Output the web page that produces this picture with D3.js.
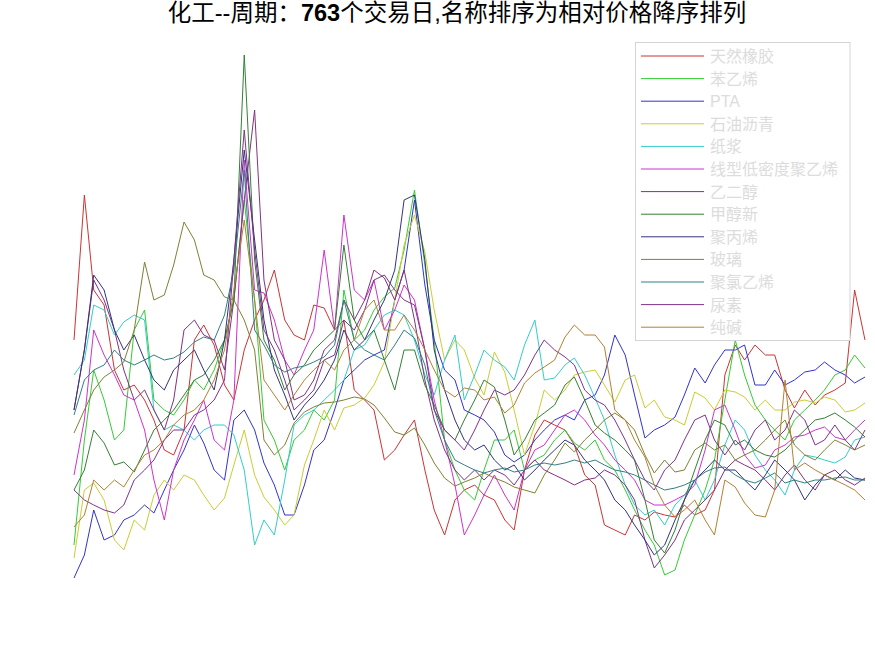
<!DOCTYPE html>
<html><head><meta charset="utf-8">
<script src="https://cdn.jsdelivr.net/npm/d3@7"></script>
<style>body{margin:0;background:#fff}</style>
</head><body>
<svg id="chart" width="875" height="656"></svg>
<script>
const names = ["天然橡胶","苯乙烯","PTA","石油沥青","纸浆","线型低密度聚乙烯","乙二醇","甲醇新","聚丙烯","玻璃","聚氯乙烯","尿素","纯碱"];
const colors = ["#cc3333","#33cc33","#3333cc","#cccc33","#33cccc","#cc33cc","#803380","#338033","#333380","#808033","#338080","#80338c","#b38033"];
const totalDays = 763;
const days = d3.range(80).map(k => Math.round(k * (totalDays - 1) / 79));

const rubber = [52,81,62,59,46,42,43,40,36,30,29,34,52,55,51,43,40,50,56,60,66,56,53,52,59,58.4,54,56,42,40,38,28,30,33,36,26,18,13,20,22,23,21,20,16,14,26,33,36,35,34,31,25,23,15,14,13,17,16,17.6,17,16.6,19,17,18,22,45,51,48,51,49,49,42,38.4,42,39,41,42,43.4,62,52];
const styrene = [11,32,46,40,32,34,54,58,40,38,37,40,44,42,46,52,60,80,60,36,32,26,32,34,38,36,40,62,52,54,58,60.6,62.4,70,82,67,52,32,26,22,20,26,32,32,34,26,28,29,32,34,31.4,30,32,28,26,22,18,14,11,5,6,12,17,22,28,40,52,45,39,36,34,32,36,38,40,42,45,46,49,46.4];
const pta = [4.4,9,18,12,13,16,17,19,17.4,22,26,30,35,31.4,26,24,36,38,34,27.4,23,17,17,23,30,32,38,44,46,48,49,50,60,66,80,63,52,46,44,38,37,36,33.6,29,27.6,29,32,34,36,37,36,40,41,45,53,49,41,32.4,34,35,36.6,41,46.4,43.4,47,50,50,51,43,43,46,43,44,45.6,46,47.6,46,45,43.4,44.6];
const asphalt = [8.4,22,23.4,20,12,10,16,14,21,24,22,25,24,21,18,20.4,27,34,25,20.6,18,15,17,27,32,38,34,38.4,39,40.4,43,47.6,60,71,77,69.6,58,48,52,50,44.4,41,49.6,45.6,38,29,35,42,40,42,45,45.6,46,43,39.6,44,45,38.4,40,36.6,36,35,41.6,40.4,38,42,41.6,40.6,38,40,38,38,39.6,40,39.4,40.6,40,37.6,38,39.4];
const pulp = [45,48,59,58,53,55.6,57,56,38,34,35,34,32,34,35,35,33,26,11,16,13,24,35,37,38,40,42,44,50,51,54,57,58,57,52,45,41,48,53,40,45,50,48,46.6,44,51,56,44,44.4,47,48.4,45,40.4,36,29,23,19,17,18,15,19,21,24,20,24,31,36,34,29,26,24,21,26,29,28.6,28,27.4,28.6,32,32.6];
const lldpe = [25,36,54,49,45,41,40,34,24,16,26,32,36,40,32,30,40,88,62,61.4,56,48,45,50,54,70,54,77,62,60,64,54,58,63,60,50,40,32,23,13,17,21,25,21,18,26,30,31,34,37,38,36,33,31,28,26,24,20,19,19,20,21,23,30,38,39,34,29,26.4,27,30,31,32.6,33,34,34.6,32.6,32,34,36];
const glycol = [38,50,64,60,54,46,40,42,38,34,40,54,56,53,52,46,60,80,98,64,52,48,40,41,44,50,52,60,56,60,66,64.4,60,66,56,44,36,30,26,24,26,24,26,25,23,26,28,26,25,24,23,24,24.4,26,25,23,20,12,6.4,9,12,16,18,20,22,26,28,27,26,24,22,25,27,24,22,25,26,24,23,24.4];
const methanol = [22,26,34,31.4,27,27.6,25.6,30,34,36,38,41,44,45,48,52,60,109,68,52,48,42,45,47,50,52,54,71,56,52,54,48,42,50,50,43,39,34,32,36,40,44,42.6,36,29,32,36,37.4,39,43,44.6,40,35,33.4,32,30,28,20,12,9.4,14,20,26,32,36,35,31,32,30,29,28.6,30,32,34,36,36.4,37.4,36,34.6,32.6];
const pp = [38,50,65,62,54,50,53,48,44,42,46,48,50,46,42,52,68,90,72,56,46,41,36,39,41,44,48,54,50,52,56,60,66,80,81,68,50,42,36,32,30,31,28,26,27,24,26,28,30,32,31,28,26,24,20,18,15,12,9,11,16,20,24,26,28,26,26,24,22,25,28,26,24,20,23,25,24,26,24.4,24];
const glass = [33.4,38,42,44.6,46,47.6,54,67.6,60,61,67,75.6,72,65,64,60.6,60,56,50,32,29,31,35.4,37.6,38.6,39.4,39.6,40,40.6,40.2,39,36.4,33.6,33,34.4,31,27.4,24.4,22.8,23.6,24.4,25.4,24.4,23.6,22.6,22,21.4,25,28,31.4,29.6,32,34,36,37.4,36,34,29,25.4,28,25.6,26,30,31.4,30,31,28,29,30,32,34,36,31,29,28,30,32,31,30,31];
const pvc = [37,44,46,47,50,48,47,48,49,48,48.4,49.6,51.6,52.6,52,57,66,86,54,51,47,45.6,46.4,46.8,47.6,48.6,51,60,52,50,49,48,51,54,52.4,47,38,32,28,27,26,25.4,26,26.4,25.6,26,27,27.4,27,27.4,28,27.4,28,27,26,25.6,25,24,23,22,22.4,23,24,25.6,26.4,26.6,25,24,23.4,24.4,25.4,23.4,24,23.4,24,24,24.4,24.6,24,24];
const urea = [22,20,19,18,17.4,19,24,26,28,32,34,34,37,38,40,44,68,94,70,54,50,44,38,40,42,48,49,56,54,58,64,65,62,60,59,50,38,34,32,30,34,38,42,41,42,45,49,52,50,48.6,47,42,40,39,36,32,28,24,22,26,28,32,36,37,32,29,32,30,34,36,32,34,38,36,31,32,35,32,30,34];
const soda = [14.6,17,24,22,24,22.6,26,29,30,32,35,37,38,40,44,50,62,76,60,44,41,38,41,44,46,48,46,50,52,58,60,54,54,57,54,50,46,42,40.6,42.4,42,40,40.6,37.4,39,43.4,45.4,46.6,48,52.6,55,53,53,50.6,38,36,32,28.6,23,19,16.6,18,20,16,13,24,22.6,19.4,17,16.6,22,44,26,27.4,26,25,24,23,22,20];

const seriesValues = [rubber, styrene, pta, asphalt, pulp, lldpe, glycol, methanol, pp, glass, pvc, urea, soda];

const svg = d3.select('#chart');
const x = d3.scaleLinear().domain([0, totalDays - 1]).range([74, 865]);
const y = d3.scaleLinear().domain([0, 120]).range([600, 0]);
const line = d3.line().x((d, i) => x(days[i])).y(d => y(d));

svg.append('g').selectAll('path').data(seriesValues).join('path')
  .attr('d', d => line(d))
  .attr('fill', 'none')
  .attr('stroke', (d, i) => colors[i])
  .attr('stroke-width', 1)
  .attr('stroke-linejoin', 'round');

// title
const title = svg.append('text')
  .attr('x', 457).attr('y', 21)
  .attr('text-anchor', 'middle')
  .attr('font-family', '"Liberation Sans", "Noto Sans CJK SC", sans-serif')
  .attr('font-size', 23.5)
  .attr('fill', '#000');
title.append('tspan').text('化工--周期：');
title.append('tspan').attr('font-weight', 'bold').text('763');
title.append('tspan').text('个交易日,名称排序为相对价格降序排列');

// legend
const lg = svg.append('g');
lg.append('rect')
  .attr('x', 635.5).attr('y', 42.5).attr('width', 214.5).attr('height', 298)
  .attr('fill', '#fff').attr('stroke', '#d4d4d4').attr('stroke-width', 1);
const item = lg.selectAll('g.item').data(names).join('g')
  .attr('transform', (d, i) => `translate(0, ${56 + 22.6 * i})`);
item.append('line')
  .attr('x1', 641).attr('x2', 704).attr('y1', 0).attr('y2', 0)
  .attr('stroke', (d, i) => colors[i]).attr('stroke-width', 1);
item.append('text')
  .attr('x', 710).attr('y', 6)
  .attr('font-family', '"Liberation Sans", "Noto Sans CJK SC", sans-serif')
  .attr('font-size', 16)
  .attr('fill', '#dcdcdc')
  .text(d => d);
</script>
</body></html>
